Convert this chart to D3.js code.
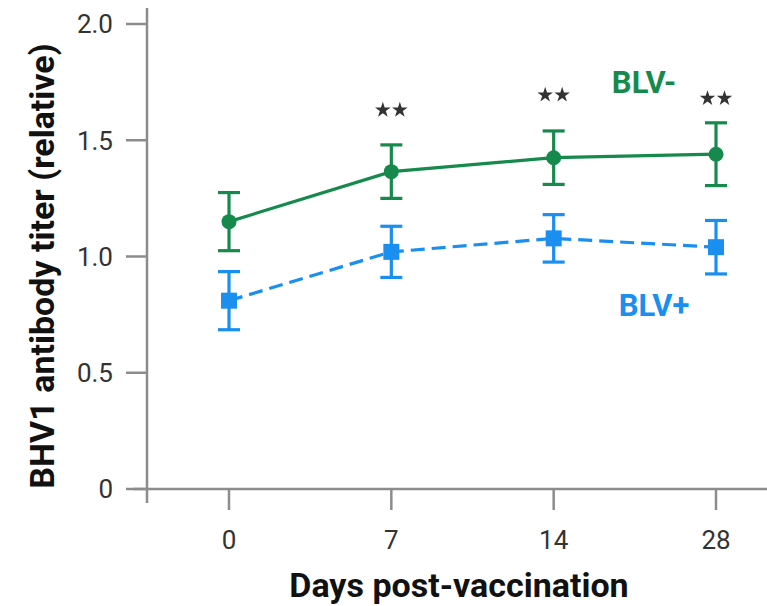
<!DOCTYPE html>
<html lang="en">
<head>
    <meta charset="UTF-8">
    <title>BHV1 antibody titer</title>
    <style>
        body { margin: 0; background: #fff; }
        text { font-family: Roboto, "Noto Sans", sans-serif; }
        .tick-label { font-size: 26px; fill: #333; }
        .axis-title { font-size: 34px; font-weight: bold; fill: #111; }
    </style>
</head>
<body>
    <svg id="chart" width="767" height="606"></svg>
    <script src="https://d3js.org/d3.v7.min.js"></script>
    <script>
        // data
        var days = ["0", "7", "14", "28"];
        var blvNeg = [1.15, 1.365, 1.425, 1.44];
        var blvNegErr = [0.125, 0.115, 0.115, 0.135];
        var blvPos = [0.81, 1.02, 1.078, 1.04];
        var blvPosErr = [0.125, 0.11, 0.102, 0.115];
        var stars = ["", "**", "**", "**"];
        var starY = [0, 1.63, 1.695, 1.68];
        var yTicks = [0, 0.5, 1.0, 1.5, 2.0];
        var yTickLabels = ["0", "0.5", "1.0", "1.5", "2.0"];

        var green = "#168a4c";
        var blue = "#1a8ff0";
        var axisColor = "#8c8c8c";

        var width = 767, height = 606;
        var svg = d3.select("#chart");

        var x = d3.scalePoint().domain(days).range([229, 716]);
        var y = d3.scaleLinear().domain([0, 2]).range([489, 24]);

        var x0 = 147, y0 = y(0);

        // axis lines (they cross at the origin)
        svg.append("line")
            .attr("x1", x0).attr("x2", x0)
            .attr("y1", 8).attr("y2", y0 + 14)
            .attr("stroke", axisColor).attr("stroke-width", 2.5);
        svg.append("line")
            .attr("x1", x0 - 14).attr("x2", width)
            .attr("y1", y0).attr("y2", y0)
            .attr("stroke", axisColor).attr("stroke-width", 2.5);

        // y ticks
        var yt = svg.append("g");
        yt.selectAll("line").data(yTicks).enter().append("line")
            .attr("x1", x0 - 21).attr("x2", x0)
            .attr("y1", d => y(d)).attr("y2", d => y(d))
            .attr("stroke", axisColor).attr("stroke-width", 2.5);
        yt.selectAll("text").data(yTicks).enter().append("text")
            .attr("class", "tick-label")
            .attr("x", x0 - 34)
            .attr("y", d => y(d))
            .attr("dy", "0.36em")
            .attr("text-anchor", "end")
            .text((d, i) => yTickLabels[i]);

        // x ticks
        var xt = svg.append("g");
        xt.selectAll("line").data(days).enter().append("line")
            .attr("x1", d => x(d)).attr("x2", d => x(d))
            .attr("y1", y0).attr("y2", y0 + 21)
            .attr("stroke", axisColor).attr("stroke-width", 2.5);
        xt.selectAll("text").data(days).enter().append("text")
            .attr("class", "tick-label")
            .attr("x", d => x(d))
            .attr("y", 549)
            .attr("text-anchor", "middle")
            .text(d => d);

        // axis titles
        svg.append("text")
            .attr("class", "axis-title")
            .attr("x", 459).attr("y", 597)
            .attr("text-anchor", "middle")
            .text("Days post-vaccination");
        svg.append("text")
            .attr("class", "axis-title")
            .attr("transform", "translate(54,266) rotate(-90)")
            .attr("text-anchor", "middle")
            .text("BHV1 antibody titer (relative)");

        function drawSeries(vals, errs, color, dash, shape) {
            var pts = days.map((d, i) => ({ day: d, v: vals[i], e: errs[i] }));
            var g = svg.append("g");
            g.append("path")
                .datum(pts)
                .attr("fill", "none")
                .attr("stroke", color)
                .attr("stroke-width", 3.2)
                .attr("stroke-dasharray", dash)
                .attr("d", d3.line().x(d => x(d.day)).y(d => y(d.v)));
            var eb = g.selectAll(".eb").data(pts).enter().append("g");
            eb.append("line")
                .attr("x1", d => x(d.day)).attr("x2", d => x(d.day))
                .attr("y1", d => y(d.v - d.e)).attr("y2", d => y(d.v + d.e))
                .attr("stroke", color).attr("stroke-width", 3.2);
            eb.append("line")
                .attr("x1", d => x(d.day) - 11).attr("x2", d => x(d.day) + 11)
                .attr("y1", d => y(d.v + d.e)).attr("y2", d => y(d.v + d.e))
                .attr("stroke", color).attr("stroke-width", 3.2);
            eb.append("line")
                .attr("x1", d => x(d.day) - 11).attr("x2", d => x(d.day) + 11)
                .attr("y1", d => y(d.v - d.e)).attr("y2", d => y(d.v - d.e))
                .attr("stroke", color).attr("stroke-width", 3.2);
            if (shape === "circle") {
                eb.append("circle")
                    .attr("cx", d => x(d.day)).attr("cy", d => y(d.v))
                    .attr("r", 7.5).attr("fill", color);
            } else {
                eb.append("rect")
                    .attr("x", d => x(d.day) - 8).attr("y", d => y(d.v) - 8)
                    .attr("width", 16).attr("height", 16)
                    .attr("fill", color);
            }
        }

        drawSeries(blvPos, blvPosErr, blue, "14,7", "square");
        drawSeries(blvNeg, blvNegErr, green, null, "circle");

        // significance stars
        var star = d3.symbol().type(d3.symbolStar).size(75);
        days.forEach((d, i) => {
            var n = stars[i].length;
            for (var k = 0; k < n; k++) {
                svg.append("path")
                    .attr("d", star)
                    .attr("fill", "#333")
                    .attr("transform", "translate(" + (x(d) - 8.5 + 17 * k) + "," + y(starY[i]) + ")");
            }
        });

        // series labels
        svg.append("text")
            .attr("x", 644).attr("y", 93)
            .attr("text-anchor", "middle")
            .style("font-size", "31px").style("font-weight", "bold")
            .attr("fill", green)
            .text("BLV-");
        svg.append("text")
            .attr("x", 654).attr("y", 316)
            .attr("text-anchor", "middle")
            .style("font-size", "31px").style("font-weight", "bold")
            .attr("fill", blue)
            .text("BLV+");
    </script>
</body>
</html>
